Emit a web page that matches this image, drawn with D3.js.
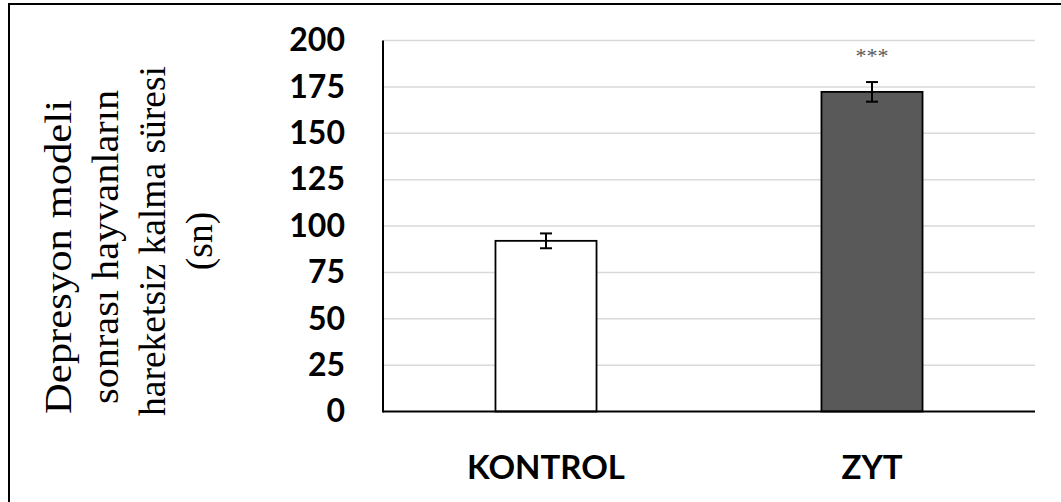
<!DOCTYPE html>
<html><head><meta charset="utf-8">
<script src="https://cdn.jsdelivr.net/npm/d3@7"></script>
<style>body{margin:0;background:#fff}svg{display:block}</style>
</head><body>
<script>
const categories = ["KONTROL", "ZYT"];
const values = [92, 172.3];
const errors = [4, 5.3];
const fills = ["#ffffff", "#595959"];
const significance = ["", "***"];
const yTicks = [0, 25, 50, 75, 100, 125, 150, 175, 200];
const yLabelLines = ["Depresyon modeli", "sonrası hayvanların", "hareketsiz kalma süresi", "(sn)"];

const W = 1061, H = 502;
const svg = d3.select("body").append("svg").attr("width", W).attr("height", H);

// outer frame (top & left visible)
svg.append("rect").attr("x", 9).attr("y", 4).attr("width", W + 20).attr("height", H + 20)
  .attr("fill", "none").attr("stroke", "#000").attr("stroke-width", 2);

const x0 = 383, x1 = 1035, yTop = 40.5, yBot = 411.5;
const x = d3.scaleBand().domain(categories).range([x0, x1]).paddingInner(0.69).paddingOuter(0.345);
const y = d3.scaleLinear().domain([0, 200]).range([yBot, yTop]);

// gridlines
svg.append("g").selectAll("line").data(yTicks.filter(d => d > 0)).join("line")
  .attr("x1", x0).attr("x2", x1).attr("y1", d => y(d)).attr("y2", d => y(d))
  .attr("stroke", "#d9d9d9").attr("stroke-width", 1.5);

// y tick labels
const yAxis = d3.axisLeft(y).tickValues(yTicks).tickSize(0).tickPadding(38);
const ga = svg.append("g").attr("transform", `translate(${x0},0)`).call(yAxis);
ga.select(".domain").remove();
ga.selectAll("text").attr("font-family", "Lato").attr("font-weight", "bold")
  .attr("font-size", 32).attr("fill", "#000");

// bars
svg.append("g").selectAll("rect").data(categories).join("rect")
  .attr("x", d => x(d)).attr("width", x.bandwidth())
  .attr("y", (d, i) => y(values[i])).attr("height", (d, i) => yBot - y(values[i]))
  .attr("fill", (d, i) => fills[i]).attr("stroke", "#000").attr("stroke-width", 1.8);

// error bars
const eg = svg.append("g").attr("stroke", "#000").attr("stroke-width", 2);
categories.forEach((c, i) => {
  const cx = x(c) + x.bandwidth() / 2;
  eg.append("line").attr("x1", cx).attr("x2", cx).attr("y1", y(values[i] + errors[i])).attr("y2", y(values[i] - errors[i]));
  eg.append("line").attr("x1", cx - 6).attr("x2", cx + 6).attr("y1", y(values[i] + errors[i])).attr("y2", y(values[i] + errors[i]));
  eg.append("line").attr("x1", cx - 6).attr("x2", cx + 6).attr("y1", y(values[i] - errors[i])).attr("y2", y(values[i] - errors[i]));
});

// significance stars
svg.append("g").selectAll("text").data(categories).join("text")
  .attr("x", d => x(d) + x.bandwidth() / 2).attr("y", 63)
  .attr("text-anchor", "middle").attr("font-family", "Liberation Serif").attr("font-size", 22)
  .attr("fill", "#595959").text((d, i) => significance[i]);

// axes lines
svg.append("line").attr("x1", x0).attr("x2", x0).attr("y1", yTop).attr("y2", yBot + 1)
  .attr("stroke", "#000").attr("stroke-width", 2);
svg.append("line").attr("x1", x0).attr("x2", x1).attr("y1", yBot).attr("y2", yBot)
  .attr("stroke", "#000").attr("stroke-width", 2);

// x labels
const xAxis = d3.axisBottom(x).tickSize(0).tickPadding(44);
const gx = svg.append("g").attr("transform", `translate(0,${yBot})`).call(xAxis);
gx.select(".domain").remove();
gx.selectAll("text").attr("font-family", "Lato").attr("font-weight", "bold")
  .attr("font-size", 33).attr("fill", "#000");

// y label (rotated; per-line centre and extent matched to the reference)
const lineCentre = [-16, -6, 0, 0];
const lineLength = [314, 314, null, null];
const yl = svg.append("text").attr("transform", "translate(0,241) rotate(-90)")
  .attr("text-anchor", "middle").attr("font-family", "Liberation Serif").attr("font-size", 37.5).attr("fill", "#000");
yLabelLines.forEach((t, i) => {
  const ts = yl.append("tspan").attr("x", lineCentre[i]).attr("y", 71 + i * 47).text(t);
  if (lineLength[i]) ts.attr("textLength", lineLength[i]).attr("lengthAdjust", "spacingAndGlyphs");
});
</script>
</body></html>
